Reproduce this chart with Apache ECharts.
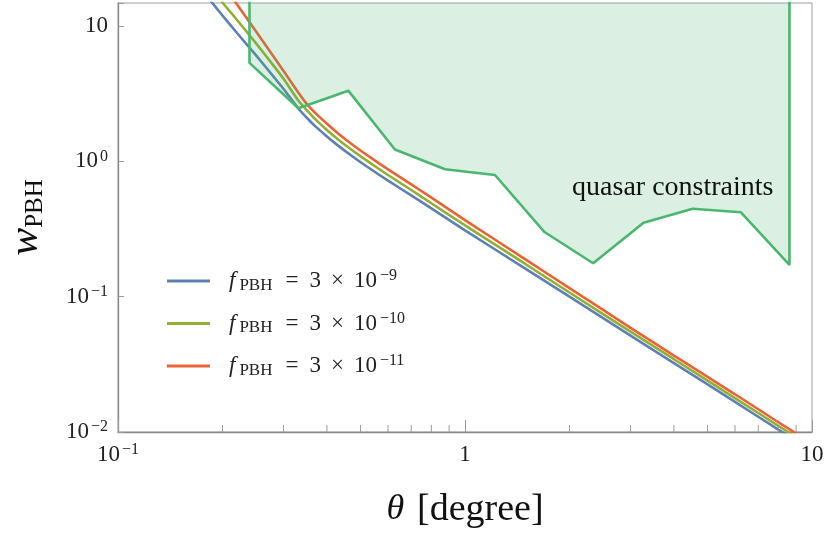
<!DOCTYPE html>
<html><head><meta charset="utf-8">
<script src="https://cdn.jsdelivr.net/npm/echarts@6/dist/echarts.min.js"></script>
<style>html,body{margin:0;padding:0;background:#fff}#c{width:828px;height:534px}</style>
</head><body><div id="c"></div>
<script>
// ---- data ----
const theta  = [0.18, 0.2, 0.22, 0.25, 0.28, 0.3, 0.33, 0.35, 0.37, 0.4, 0.43, 0.47, 0.52, 0.6, 0.7, 0.8, 1, 1.5, 2, 3, 4, 6, 8, 9];
const wBlue  = [16.69, 11.96, 8.92, 6.07, 4.26, 3.43, 2.48, 2.10, 1.82, 1.528, 1.313, 1.105, 0.920, 0.721, 0.560, 0.449, 0.309, 0.160, 0.100, 0.0516, 0.0323, 0.0167, 0.0104, 0.00858];
const wGreen = [21.18, 14.93, 11.13, 7.45, 5.14, 4.07, 2.84, 2.39, 2.05, 1.707, 1.459, 1.223, 1.016, 0.793, 0.614, 0.490, 0.337, 0.173, 0.1074, 0.0551, 0.0345, 0.0178, 0.0111, 0.00916];
const wRed   = [30.3, 20.6, 14.5, 9.11, 6.01, 4.66, 3.26, 2.66, 2.28, 1.896, 1.616, 1.350, 1.119, 0.872, 0.675, 0.540, 0.368, 0.187, 0.1158, 0.0589, 0.0367, 0.0190, 0.0118, 0.00975];
const quasarTheta = [0.2393, 0.2393, 0.331, 0.461, 0.628, 0.876, 1.22, 1.69, 2.34, 3.27, 4.53, 6.23, 8.61, 8.61];
const quasarW     = [20, 5.34, 2.47, 3.33, 1.224, 0.874, 0.793, 0.302, 0.1766, 0.352, 0.447, 0.421, 0.1715, 20];
const quasarLabel = 'quasar constraints';
const quasarLabelAt = [3.97, 0.64];
const seriesNames = ['fPBH = 3 × 10^-9', 'fPBH = 3 × 10^-10', 'fPBH = 3 × 10^-11'];
const fExponents = ['−9', '−10', '−11'];
const xTickValues = [0.1, 1, 10];
const xTickLabels = ['{b|10}{s|−1}', '{b|1}', '{b|10}'];
const yTickValues = [0.01, 0.1, 1, 10];
const yTickLabels = ['{b|10}{s|−2}', '{b|10}{s|−1}', '{b|10}{s|0}', '{b|10}'];
const xMinorTicks = [0.2, 0.3, 0.4, 0.5, 0.6, 0.7, 0.8, 0.9, 2, 3, 4, 5, 6, 7, 8, 9];
const xMin = 0.1, xMax = 10, yMin = 0.01, yMax = 14.8;

const FONT = 'Liberation Serif';
const colors = ['#5e81b5', '#8fb032', '#eb6235'];
const quasarColor = '#4bb66f';

function zip(a, b) { return a.map((v, i) => [v, b[i]]); }
function pick(vals, labels) {
  return function (v) {
    for (let i = 0; i < vals.length; i++) {
      if (Math.abs(Math.log10(v) - Math.log10(vals[i])) < 1e-6) return labels[i];
    }
    return '';
  };
}
const tickRich = {
  b: { fontFamily: FONT, fontSize: 23, color: '#222', lineHeight: 26 },
  s: { fontFamily: FONT, fontSize: 16, color: '#222', lineHeight: 16, verticalAlign: 'top', padding: [0, 0, 0, 2] }
};

const chart = echarts.init(document.getElementById('c'), null, { renderer: 'canvas' });
const curveData = [wBlue, wGreen, wRed];
const series = curveData.map((w, i) => ({
  name: seriesNames[i], type: 'line', data: zip(theta, w), showSymbol: false, symbol: 'none',
  smooth: 0.2, lineStyle: { color: colors[i], width: 2.6 }, itemStyle: { color: colors[i] }, z: 3, clip: true
}));
series.push({
  name: 'quasar', type: 'line', data: zip(quasarTheta, quasarW), showSymbol: false, symbol: 'none',
  lineStyle: { color: quasarColor, width: 2.6 }, areaStyle: { color: quasarColor, opacity: 0.2, origin: 'end' },
  z: 4, clip: true, silent: true,
  markPoint: {
    symbol: 'circle', symbolSize: 0, silent: true,
    data: [{ coord: quasarLabelAt, value: quasarLabel }],
    label: { show: true, formatter: quasarLabel, fontFamily: FONT, fontSize: 28, color: '#111', position: 'inside' }
  }
});
series.push({
  name: 'minor', type: 'custom', silent: true, z: 5,
  data: xMinorTicks.map(v => [v, yMin]),
  renderItem: function (params, api) {
    const p = api.coord([api.value(0), api.value(1)]);
    return { type: 'line', shape: { x1: p[0], y1: p[1], x2: p[0], y2: p[1] - 7 }, style: { stroke: '#9a9a9a', lineWidth: 1 } };
  }
});

const lg = { fontFamily: FONT, color: '#222' };
chart.setOption({
  animation: false,
  backgroundColor: '#fff',
  grid: { left: 118, right: 16, top: 3, bottom: 102, show: true, borderColor: '#a0a0a0', borderWidth: 1,
          containLabel: false, outerBoundsMode: 'none' },
  legend: {
    data: seriesNames, orient: 'vertical', left: 162, top: 263, itemGap: 16.5, itemWidth: 43, itemHeight: 3,
    icon: 'rect', selectedMode: false,
    formatter: function (name) {
      const i = seriesNames.indexOf(name);
      return '{f|f}{p|PBH}{q|=}{n|3}{x|×}{m|10}{e|' + fExponents[i] + '}';
    },
    textStyle: {
      rich: {
        f: Object.assign({ fontStyle: 'italic', fontSize: 23, lineHeight: 26, padding: [0, 0, 0, 14] }, lg),
        p: Object.assign({ fontSize: 17, lineHeight: 16, verticalAlign: 'bottom', padding: [0, 0, 0, 4] }, lg),
        q: Object.assign({ fontSize: 23, lineHeight: 26, padding: [0, 0, 0, 13] }, lg),
        n: Object.assign({ fontSize: 23, lineHeight: 26, padding: [0, 0, 0, 11] }, lg),
        x: Object.assign({ fontSize: 23, lineHeight: 26, padding: [0, 0, 0, 10] }, lg),
        m: Object.assign({ fontSize: 23, lineHeight: 26, padding: [0, 0, 0, 10] }, lg),
        e: Object.assign({ fontSize: 16, lineHeight: 16, verticalAlign: 'top', padding: [0, 0, 0, 3] }, lg)
      }
    }
  },
  xAxis: {
    type: 'log', logBase: 10, min: xMin, max: xMax,
    axisLine: { show: true, lineStyle: { color: '#888', width: 1.3 } },
    axisTick: { show: true, inside: true, length: 12, lineStyle: { color: '#9a9a9a', width: 1 } },
    minorTick: { show: false },
    splitLine: { show: false },
    axisLabel: { formatter: pick(xTickValues, xTickLabels), margin: 10, rich: tickRich, showMinLabel: true, showMaxLabel: true },
    name: '{th|θ}{t|[degree]}', nameLocation: 'middle', nameGap: 56,
    nameTextStyle: {
      rich: {
        th: { fontFamily: FONT, fontStyle: 'italic', fontSize: 36, color: '#111', lineHeight: 44, padding: [0, 13, 0, 0] },
        t: { fontFamily: FONT, fontSize: 38, color: '#111', lineHeight: 44 }
      }
    }
  },
  yAxis: {
    type: 'log', logBase: 10, min: yMin, max: yMax,
    axisLine: { show: true, lineStyle: { color: '#888', width: 1.3 } },
    axisTick: { show: true, inside: true, length: 6, lineStyle: { color: '#9a9a9a', width: 1 } },
    splitLine: { show: false },
    axisLabel: { formatter: pick(yTickValues, yTickLabels), margin: 10, rich: tickRich, showMinLabel: true, showMaxLabel: true },
    name: '{w|w}{p|PBH}', nameLocation: 'middle', nameGap: 70, nameRotate: 90,
    nameTextStyle: {
      rich: {
        w: { fontFamily: FONT, fontStyle: 'italic', fontSize: 42, color: '#111', lineHeight: 44 },
        p: { fontFamily: FONT, fontSize: 25, color: '#111', lineHeight: 24, verticalAlign: 'bottom' }
      }
    }
  },
  series: series
});
</script></body></html>
